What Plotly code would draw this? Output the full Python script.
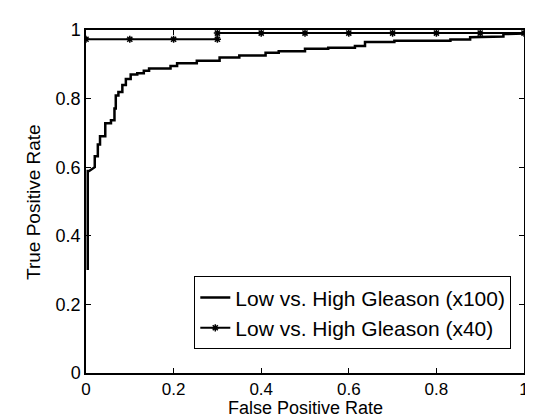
import plotly.graph_objects as go

# ROC x100 (step curve)
fpr_100 = [0.004, 0.004, 0.007, 0.020, 0.020, 0.027, 0.027, 0.032, 0.032, 0.044, 0.044,
           0.057, 0.057, 0.065, 0.065, 0.068, 0.068, 0.074, 0.074, 0.083, 0.083, 0.091,
           0.091, 0.102, 0.102, 0.117, 0.117, 0.132, 0.132, 0.144, 0.144, 0.193, 0.193,
           0.208, 0.208, 0.253, 0.253, 0.305, 0.305, 0.35, 0.35, 0.41, 0.41, 0.44, 0.44,
           0.50, 0.50, 0.553, 0.553, 0.614, 0.614, 0.637, 0.637, 0.704, 0.704, 0.832,
           0.832, 0.877, 0.877, 0.915, 0.915, 0.953, 0.953, 0.998, 1.0]
tpr_100 = [0.30, 0.589, 0.589, 0.60, 0.632, 0.632, 0.666, 0.666, 0.69, 0.69, 0.728,
           0.728, 0.737, 0.737, 0.771, 0.771, 0.809, 0.809, 0.819, 0.819, 0.84, 0.84,
           0.857, 0.857, 0.87, 0.87, 0.874, 0.874, 0.881, 0.881, 0.888, 0.888, 0.895,
           0.895, 0.903, 0.903, 0.91, 0.91, 0.92, 0.92, 0.926, 0.926, 0.934, 0.934, 0.938,
           0.938, 0.945, 0.945, 0.948, 0.948, 0.953, 0.953, 0.965, 0.965, 0.969, 0.969,
           0.972, 0.972, 0.979, 0.979, 0.981, 0.981, 0.988, 0.988, 0.99]

# ROC x40
fpr_40 = [0.0, 0.1, 0.2, 0.3, 0.3, 0.4, 0.5, 0.6, 0.7, 0.8, 0.9, 1.0]
tpr_40 = [0.973, 0.973, 0.973, 0.973, 0.991, 0.991, 0.991, 0.991, 0.991, 0.991, 0.991, 0.991]

ticks = [0, 0.2, 0.4, 0.6, 0.8, 1]
tick_text = ['0', '0.2', '0.4', '0.6', '0.8', '1']

FONT = 'Liberation Sans, Arial'

fig = go.Figure()
fig.add_trace(go.Scatter(
    x=fpr_100, y=tpr_100, mode='lines',
    name='Low vs. High Gleason (x100)',
    line=dict(color='black', width=2.5)
))
fig.add_trace(go.Scatter(
    x=fpr_40, y=tpr_40, mode='lines+markers',
    name='Low vs. High Gleason (x40)',
    line=dict(color='black', width=2),
    marker=dict(symbol='asterisk-open', size=6, color='black',
                line=dict(color='black', width=1.5))
))

fig.update_xaxes(
    range=[0, 1], showline=True, linecolor='black', linewidth=1.5,
    mirror='ticks', ticks='inside', ticklen=5, tickcolor='black',
    tickvals=ticks, ticktext=tick_text, showgrid=False, zeroline=False,
    tickfont=dict(family=FONT, size=17, color='black'),
)
fig.update_yaxes(
    range=[0, 1], showline=True, linecolor='black', linewidth=1.5,
    mirror='ticks', ticks='inside', ticklen=5, tickcolor='black',
    tickvals=ticks, ticktext=tick_text, showgrid=False, zeroline=False,
    tickfont=dict(family=FONT, size=18, color='black'),
)

# axis titles as annotations so they sit where the reference has them
fig.add_annotation(text='False Positive Rate', xref='paper', yref='paper',
                   x=0.5, y=-0.103, xanchor='center', yanchor='middle',
                   showarrow=False, font=dict(family=FONT, size=18, color='black'))
fig.add_annotation(text='True Positive Rate', xref='paper', yref='paper',
                   x=-0.12, y=0.5, xanchor='center', yanchor='middle', textangle=-90,
                   showarrow=False, font=dict(family=FONT, size=19, color='black'))

fig.update_layout(
    width=533, height=418,
    margin=dict(l=78, r=12, t=17, b=53),
    plot_bgcolor='white', paper_bgcolor='white',
    font=dict(family=FONT, size=18, color='black'),
    legend=dict(
        x=0.971, y=0.069, xanchor='right', yanchor='bottom',
        bordercolor='black', borderwidth=1, bgcolor='white',
        font=dict(size=21), tracegroupgap=0
    ),
)

fig.write_html("out.html")
